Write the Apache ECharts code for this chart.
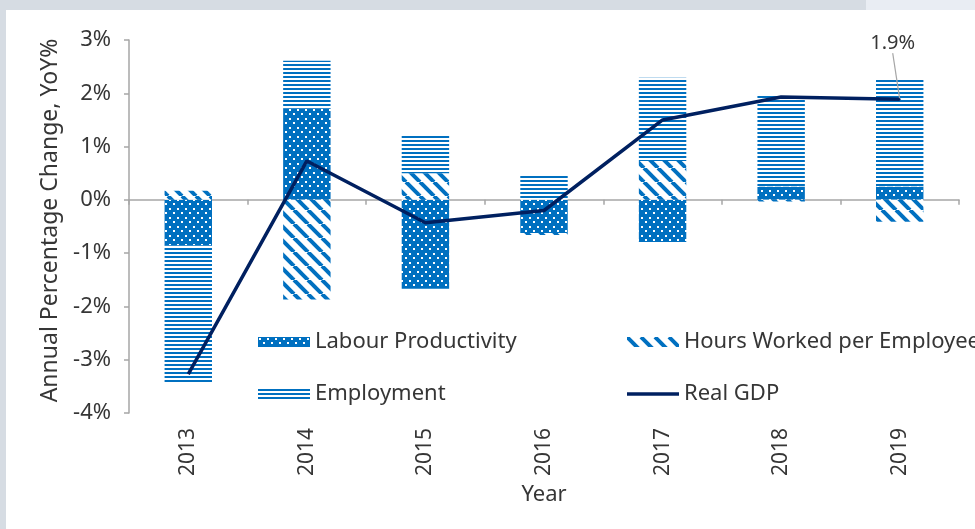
<!DOCTYPE html>
<html><head><meta charset="utf-8">
<script src="https://cdn.jsdelivr.net/npm/echarts@6/dist/echarts.min.js"></script>
<style>
html,body{margin:0;padding:0;width:975px;height:529px;overflow:hidden;background:#d6dce3;}
#tr{position:absolute;left:866px;top:0;width:109px;height:10px;background:#e9edf3;}
#card{position:absolute;left:6px;top:10px;right:0;bottom:0;background:#fff;}
#chart{position:absolute;left:0;top:0;width:975px;height:529px;}
</style></head><body>
<div id="tr"></div><div id="card"></div><div id="chart"></div>
<script>
const years = ['2013','2014','2015','2016','2017','2018','2019'];
const labourProductivity = [-0.85, 1.72, -1.67, -0.62, -0.79, 0.25, 0.25];
const hoursWorked = [0.17, -1.87, 0.50, -0.04, 0.73, -0.03, -0.41];
const employment = [-2.60, 0.89, 0.73, 0.46, 1.56, 1.71, 2.00];
const realGDP = [-3.27, 0.73, -0.43, -0.20, 1.50, 1.93, 1.89];
const yMin = -4, yMax = 3, yStep = 1;
const labelledIndex = 6;

const FONT = 'Noto Sans';
const TXT = '#363636';
const BLUE = '#0070C0';
const NAVY = '#002060';
const AXIS = '#a6a6a6';

function tile(w, h, draw) {
  const c = document.createElement('canvas');
  c.width = w; c.height = h;
  draw(c.getContext('2d'), w, h);
  return { image: c, repeat: 'repeat' };
}
const dotFill = tile(8, 9, g => {
  g.fillStyle = BLUE; g.fillRect(0, 0, 8, 9);
  g.fillStyle = '#fff'; g.fillRect(1, 1, 2, 2); g.fillRect(5, 5, 2, 2);
});
const diagFill = tile(14, 14, g => {
  g.fillStyle = '#fff'; g.fillRect(0, 0, 14, 14);
  g.strokeStyle = BLUE; g.lineWidth = 4;
  for (const o of [-14, 0, 14]) { g.beginPath(); g.moveTo(o, 0); g.lineTo(o + 14, 14); g.stroke(); }
});
const horizFill = tile(4, 4, g => {
  g.fillStyle = '#fff'; g.fillRect(0, 0, 4, 4);
  g.fillStyle = BLUE; g.fillRect(0, 0, 4, 2);
});

const chart = echarts.init(document.getElementById('chart'), null, { renderer: 'canvas' });
const legendCommon = {
  orient: 'vertical', top: 331, padding: 0, itemWidth: 52, itemHeight: 10, itemGap: 30,
  selectedMode: false,
  textStyle: { fontFamily: FONT, fontSize: 22, color: TXT }
};
chart.setOption({
  animation: false,
  backgroundColor: 'transparent',
  textStyle: { fontFamily: FONT },
  grid: { left: 129, right: 16, top: 40, bottom: 116, containLabel: false, outerBoundsMode: 'none' },
  legend: [
    Object.assign({ left: 258, data: [{ name: 'Labour Productivity', icon: 'rect' }, { name: 'Employment', icon: 'rect' }] }, legendCommon),
    Object.assign({ left: 627, data: [{ name: 'Hours Worked per Employee', icon: 'rect' }, { name: 'Real GDP', icon: 'path://M0,0H52V3.6H0Z' }] }, legendCommon)
  ],
  xAxis: [
    {
      type: 'category', data: years,
      axisLine: { onZero: true, lineStyle: { color: AXIS, width: 1.5 } },
      axisTick: { show: true, length: 5, lineStyle: { color: AXIS, width: 1.5 } },
      axisLabel: { show: false }
    },
    {
      type: 'category', data: years, position: 'bottom',
      axisLine: { show: false, onZero: false },
      axisTick: { show: false },
      axisLabel: { rotate: 90, margin: 15, fontSize: 21, color: TXT, fontFamily: FONT },
      name: 'Year', nameLocation: 'middle', nameGap: 69,
      nameTextStyle: { fontSize: 22, color: TXT, fontFamily: FONT }
    }
  ],
  yAxis: {
    type: 'value', min: yMin, max: yMax, interval: yStep,
    axisLine: { show: true, lineStyle: { color: AXIS, width: 1.5 } },
    axisTick: { show: true, length: 5, lineStyle: { color: AXIS, width: 1.5 } },
    splitLine: { show: false },
    axisLabel: { formatter: '{value}%', margin: 18, fontSize: 22, color: TXT, fontFamily: FONT },
    name: 'Annual Percentage Change, YoY%', nameLocation: 'middle', nameGap: 66,
    nameTextStyle: { fontSize: 23, color: TXT, fontFamily: FONT, padding: [0, 0, 0, 12] }
  },
  series: [
    { name: 'Labour Productivity', type: 'bar', stack: 'total', barWidth: '40%', data: labourProductivity, itemStyle: { color: dotFill } },
    { name: 'Hours Worked per Employee', type: 'bar', stack: 'total', data: hoursWorked, itemStyle: { color: diagFill } },
    { name: 'Employment', type: 'bar', stack: 'total', data: employment, itemStyle: { color: horizFill } },
    {
      name: 'Real GDP', type: 'line', symbol: 'none', z: 5,
      lineStyle: { color: NAVY, width: 3.5 }, itemStyle: { color: NAVY },
      data: realGDP.map((v, i) => i === labelledIndex ? {
        value: v, symbol: 'circle', symbolSize: 2,
        label: { show: true, position: 'top', formatter: p => p.value.toFixed(1) + '%', fontSize: 20, color: TXT, fontFamily: FONT }
      } : v),
      labelLayout: p => p.dataIndex === labelledIndex ? { dx: -7, dy: -40 } : {},
      labelLine: { show: true, lineStyle: { color: AXIS, width: 1.2 } }
    }
  ]
});
</script>
</body></html>
